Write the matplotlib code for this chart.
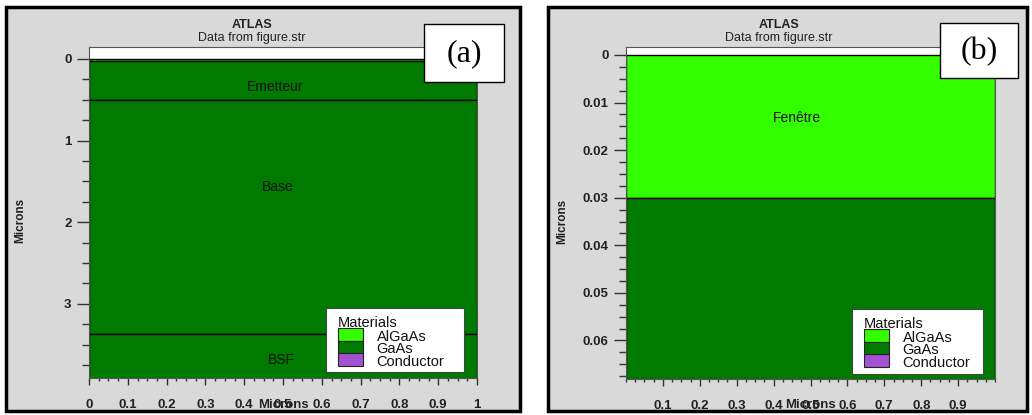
import numpy as np
import matplotlib
matplotlib.use('Agg')
from matplotlib import pyplot as plt
from matplotlib.patches import Rectangle
from matplotlib.ticker import MultipleLocator, FuncFormatter

# panel (a): full cell, depth in microns
a_top = [0.0, 0.03, 0.5, 3.37]
a_bot = [0.03, 0.5, 3.37, 4.0]
a_mat = ['AlGaAs', 'GaAs', 'GaAs', 'GaAs']
a_names = ['Emetteur', 'Base', 'BSF']
a_name_x = [0.48, 0.487, 0.497]
a_name_y = [0.34, 1.57, 3.69]

# panel (b): zoom on the window layer
b_top = [0.0, 0.03]
b_bot = [0.03, 0.07]
b_mat = ['AlGaAs', 'GaAs']
b_names = ['Fenêtre']
b_name_x = [0.463]
b_name_y = [0.0132]

materials = ['AlGaAs', 'GaAs', 'Conductor']
mat_color = {'AlGaAs': '#33ff00', 'GaAs': '#007a00', 'Conductor': '#a352d1'}

W, H = 1032, 415
fig = plt.figure(figsize=(W / 100, H / 100), dpi=100)
fig.patch.set_facecolor('white')
plt.rcParams['font.family'] = ['Liberation Sans', 'DejaVu Sans']


def px(x, y):
    return x / W, 1 - y / H


def box(x0, y0, x1, y1, **kw):
    r = Rectangle(px(x0, y1), (x1 - x0) / W, (y1 - y0) / H,
                  transform=fig.transFigure, **kw)
    fig.add_artist(r)


def fmt(v, pos):
    return '%g' % round(v, 6)


# grey panels
box(6, 7, 520, 411, facecolor='#d9d9d9', edgecolor='black', linewidth=2.5, zorder=-1)
box(548, 7, 1027, 411, facecolor='#d9d9d9', edgecolor='black', linewidth=2.5, zorder=-1)


def panel(rect, tops, bots, mats, names, nx, ny, ylim, ymaj, ymin, xticks):
    ax = fig.add_axes(rect)
    ax.set_facecolor('white')
    for t, b, m in zip(tops, bots, mats):
        ax.bar(0, b - t, bottom=t, width=1, align='edge', color=mat_color[m],
               edgecolor='black', linewidth=1)
    for s, x, y in zip(names, nx, ny):
        ax.text(x, y, s, ha='center', va='center', fontsize=10, color='#111111',
                fontweight='medium')
    ax.set_xlim(0, 1)
    ax.set_ylim(*ylim)
    ax.yaxis.set_major_locator(MultipleLocator(ymaj))
    ax.yaxis.set_minor_locator(MultipleLocator(ymin))
    ax.set_xticks(xticks)
    ax.xaxis.set_minor_locator(MultipleLocator(0.025))
    ax.xaxis.set_major_formatter(FuncFormatter(fmt))
    ax.yaxis.set_major_formatter(FuncFormatter(fmt))
    ax.tick_params(axis='y', which='major', direction='out', length=8.5, width=1,
                   color='#333333', pad=4, labelsize=9.5, labelcolor='#222222')
    ax.tick_params(axis='y', which='minor', direction='out', length=5, width=1,
                   color='#333333')
    ax.tick_params(axis='x', which='major', direction='out', length=5, width=1,
                   color='#333333', pad=10, labelsize=9.5, labelcolor='#222222')
    ax.tick_params(axis='x', which='minor', direction='out', length=2.2, width=1,
                   color='#333333')
    for lab in ax.get_xticklabels() + ax.get_yticklabels():
        lab.set_fontweight('bold')
    for sp in ax.spines.values():
        sp.set_color('#555555')
        sp.set_linewidth(0.8)
    # the axis titles sit on top of the tick labels, as in the original
    ax.set_xlabel('Microns', fontsize=9.5, fontweight='bold', color='#222222')
    ax.set_ylabel('Microns', fontsize=8.5, fontweight='bold', color='#222222')
    ax.xaxis.label.set_va('center')
    ax.yaxis.label.set_va('center')
    return ax


ax1 = panel([89 / W, 1 - 378 / H, (477 - 89) / W, (378 - 46.7) / H],
            a_top, a_bot, a_mat, a_names, a_name_x, a_name_y,
            (3.91, -0.15), 1, 0.25, np.round(np.arange(0, 1.01, 0.1), 1))
ax1.xaxis.set_label_coords(0.5, -(405 - 378) / 331.3)
ax1.yaxis.set_label_coords((20 - 89) / 388, 0.477)

ax2 = panel([626 / W, 1 - 379 / H, (995 - 626) / W, (379 - 46.7) / H],
            b_top, b_bot, b_mat, b_names, b_name_x, b_name_y,
            (0.0681, -0.00174), 0.01, 0.0025, np.round(np.arange(0.1, 0.91, 0.1), 1))
ax2.xaxis.set_label_coords(0.5, -(405 - 379) / 332.3)
ax2.yaxis.set_label_coords((562 - 626) / 369, 0.475)

# titles
for cx in [252, 779]:
    fig.text(*px(cx, 25.5), 'ATLAS', ha='center', va='center', fontsize=9,
             fontweight='bold', color='#222222')
    fig.text(*px(cx, 38.5), 'Data from figure.str', ha='center', va='center',
             fontsize=9, fontweight='medium', color='#222222')

# material legends
for x0, y0, x1, y1 in [(326, 308, 464, 372), (852, 309, 983, 374)]:
    box(x0, y0, x1, y1, facecolor='white', edgecolor='#444444', linewidth=0.8, zorder=5)
    fig.text(*px(x0 + 11.5, y0 + 14.5), 'Materials', ha='left', va='center',
             fontsize=10.5, color='#111111', zorder=6)
    for i, m in enumerate(materials):
        sy = y0 + 20 + i * 12.6
        box(x0 + 11.5, sy, x0 + 36.5, sy + 12.6, facecolor=mat_color[m],
            edgecolor='#222222', linewidth=0.8, zorder=7)
        fig.text(*px(x0 + 50.5, sy + 8.5), m, ha='left', va='center',
                 fontsize=10.5, color='#111111', zorder=7)

# (a) / (b) tags
for (x0, y0, x1, y1), tag in [((424, 24, 504, 82), '(a)'), ((940, 23, 1018, 78), '(b)')]:
    box(x0, y0, x1, y1, facecolor='white', edgecolor='black', linewidth=1, zorder=8)
    fig.text(*px((x0 + x1) / 2, (y0 + y1) / 2 + 1), tag, ha='center', va='center',
             fontsize=23, family=['Liberation Serif', 'DejaVu Serif'], zorder=9)

fig.savefig('out.png', dpi=100)
